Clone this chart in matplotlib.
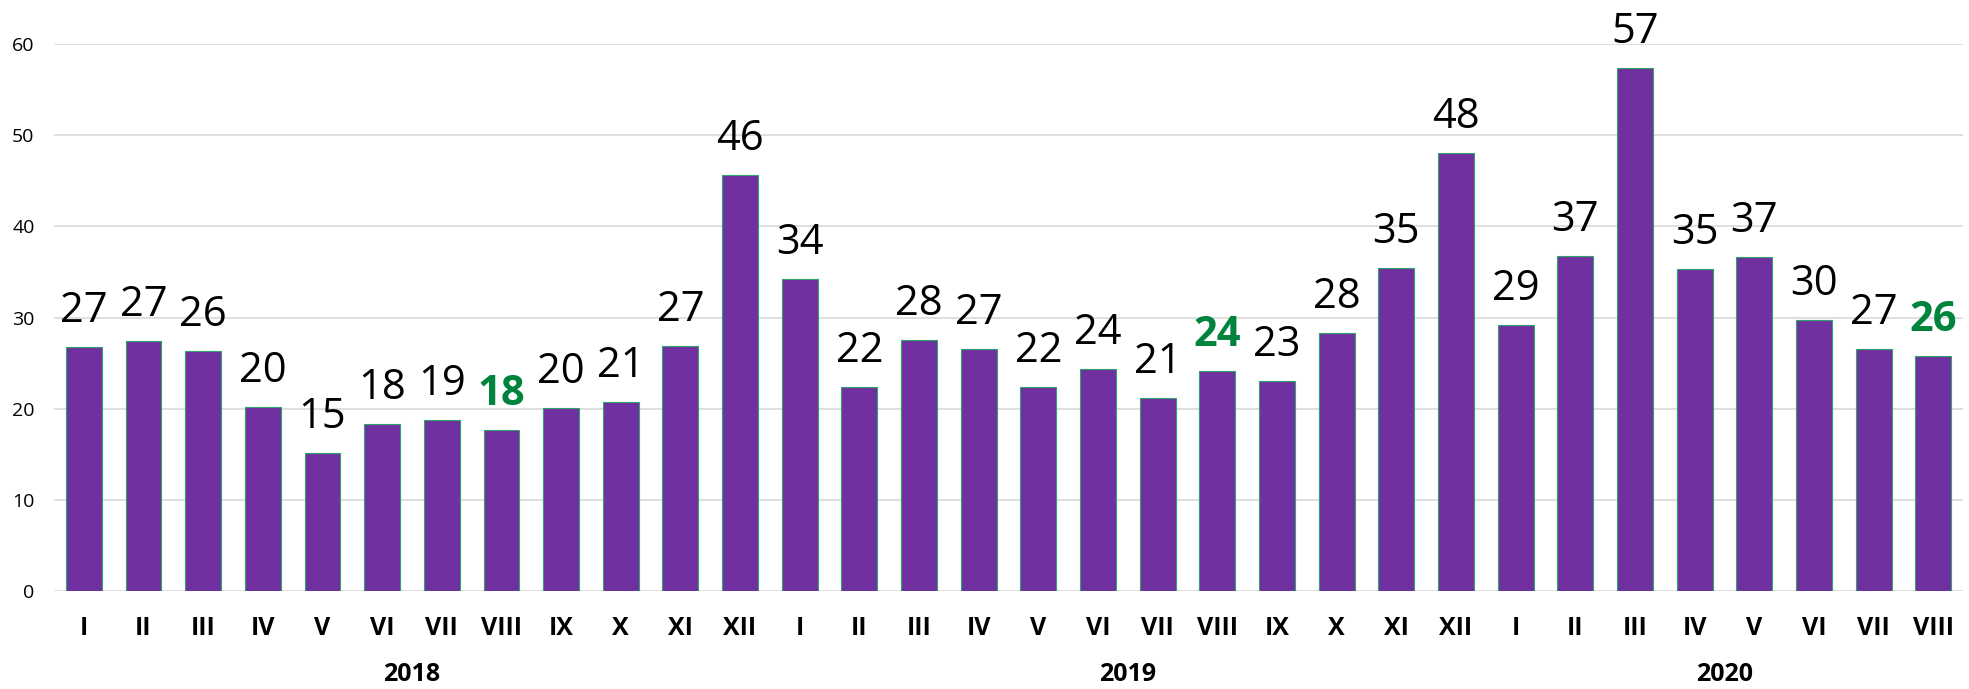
import numpy as np
import matplotlib
matplotlib.use("Agg")
import matplotlib.pyplot as plt

# monthly values
years = ["2018", "2019", "2020"]
months = ["I", "II", "III", "IV", "V", "VI", "VII", "VIII", "IX", "X", "XI", "XII"]
values_2018 = [26.8, 27.4, 26.3, 20.2, 15.2, 18.3, 18.8, 17.7, 20.1, 20.8, 26.9, 45.6]
values_2019 = [34.2, 22.4, 27.6, 26.6, 22.4, 24.4, 21.2, 24.2, 23.0, 28.3, 35.4, 48.1]
values_2020 = [29.2, 36.8, 57.4, 35.3, 36.6, 29.7, 26.6, 25.8]
labels_2018 = ["27", "27", "26", "20", "15", "18", "19", "18", "20", "21", "27", "46"]
labels_2019 = ["34", "22", "28", "27", "22", "24", "21", "24", "23", "28", "35", "48"]
labels_2020 = ["29", "37", "57", "35", "37", "30", "27", "26"]
highlight = ["2018-VIII", "2019-VIII", "2020-VIII"]

PURPLE = "#7030A0"
GREEN = "#00843D"
FONT = ["Open Sans", "DejaVu Sans"]

series = [values_2018, values_2019, values_2020]
label_sets = [labels_2018, labels_2019, labels_2020]
values = [v for s in series for v in s]
labels = [l for s in label_sets for l in s]
tick_names = [months[i] for s in series for i in range(len(s))]
keys = [f"{y}-{months[i]}" for y, s in zip(years, series) for i in range(len(s))]
x = np.arange(len(values))

fig = plt.figure(figsize=(19.69, 6.89), dpi=100)
ax = fig.add_axes([0.0274, 0.142, 0.9696, 0.794])

ax.bar(x, values, width=0.6, color=PURPLE, edgecolor="#2EA36A", linewidth=0.8, zorder=3)

for xi, v, lab, key in zip(x, values, labels, keys):
    hl = key in highlight
    ax.annotate(lab, (xi, v), xytext=(0, 18), textcoords="offset points",
                ha="center", va="baseline", fontsize=30 if hl else 30,
                fontweight="bold" if hl else "normal",
                color=GREEN if hl else "black", family=FONT, clip_on=False)

ax.set_xlim(-0.5, len(values) - 0.5)
ax.set_ylim(0, 60)
ax.set_yticks(range(0, 61, 10))
ax.yaxis.grid(True, color="#d9d9d9", linewidth=1.2, zorder=0)
ax.set_axisbelow(True)
for sp in ax.spines.values():
    sp.set_visible(False)

ax.set_xticks(x)
ax.set_xticklabels(tick_names, fontsize=18, fontweight="bold", family=FONT)
ax.tick_params(axis="x", length=0, pad=18)
ax.tick_params(axis="y", length=0, pad=14, labelsize=14)
for t in ax.get_yticklabels():
    t.set_family(FONT)

# year labels centred under their months
start = 0
for y, s in zip(years, series):
    mid = start + (len(s) - 1) / 2
    ax.text(mid, -0.152, y, transform=ax.get_xaxis_transform(), ha="center", va="center",
            fontsize=18, fontweight="bold", family=FONT)
    start += len(s)

fig.savefig("out.png", dpi=100)
